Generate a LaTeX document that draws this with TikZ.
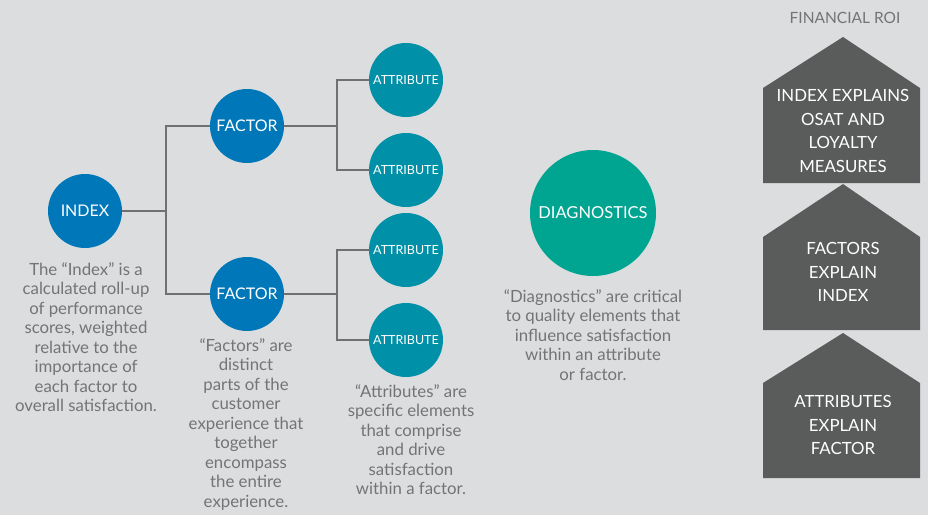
\documentclass[tikz,border=0pt]{standalone}
\usepackage{fontspec}
\setmainfont{Lato}
\usepackage{xcolor}
\usetikzlibrary{positioning}
\definecolor{bgcol}{HTML}{DCDDDF}
\definecolor{idxblue}{HTML}{0077B8}
\definecolor{attteal}{HTML}{0090A8}
\definecolor{diagcol}{HTML}{00A591}
\definecolor{hscol}{HTML}{5A5B5B}
\definecolor{txtgray}{HTML}{737476}
\definecolor{lngray}{HTML}{6F7072}
\tikzset{
  bubble/.style={circle,fill=idxblue,minimum size=74pt,inner sep=0pt,text=white,font=\fontsize{16}{19}\selectfont},
  attbub/.style={bubble,fill=attteal,font=\fontsize{12.5}{14}\selectfont},
  diagbub/.style={bubble,fill=diagcol,minimum size=126pt,font=\fontsize{16.5}{19}\selectfont},
  note/.style={align=center,text=txtgray,inner sep=0pt,anchor=north,font=\fontsize{16.8}{19.5}\selectfont},
  lnk/.style={draw=lngray,line width=1.2pt},
  house/.style={fill=hscol},
  hstxt/.style={align=center,text=white,inner sep=0pt,font=\fontsize{16.8}{23.5}\selectfont}
}

\begin{document}
\begin{tikzpicture}[x=1pt,y=-1pt]
\fill[bgcol] (0,0) rectangle (928,515);
\useasboundingbox (0,0) rectangle (928,515);
% tree
\node[bubble] (index) at (85,211) {INDEX};
\node[bubble] (fac1) at (247,126) {FACTOR};
\node[bubble] (fac2) at (247,294) {FACTOR};
\node[attbub] (att1) at (406,80) {ATTRIBUTE};
\node[attbub] (att2) at (406,170) {ATTRIBUTE};
\node[attbub] (att3) at (406,250) {ATTRIBUTE};
\node[attbub] (att4) at (406,340) {ATTRIBUTE};
\node[diagbub] (diag) at (593,213) {DIAGNOSTICS};
\coordinate (jA) at (166,211); \coordinate (jB) at (337,126); \coordinate (jC) at (337,294);
\draw[lnk] (index) -- (jA); \draw[lnk] (jA) |- (fac1); \draw[lnk] (jA) |- (fac2);
\draw[lnk] (fac1) -- (jB); \draw[lnk] (jB) |- (att1); \draw[lnk] (jB) |- (att2);
\draw[lnk] (fac2) -- (jC); \draw[lnk] (jC) |- (att3); \draw[lnk] (jC) |- (att4);
% notes
\node[note] (idxnote) at (86,262) {The “Index” is a\\calculated roll-up\\of performance\\scores, weighted\\relative to the\\importance of\\each factor to\\overall satisfaction.};
\node[note] (facnote) at (246,338) {“Factors” are\\distinct\\parts of the\\customer\\experience that\\together\\encompass\\the entire\\experience.};
\node[note] (attnote) at (411,384) {“Attributes” are\\specific elements\\that comprise\\and drive\\satisfaction\\within a factor.};
\node[note] (diagnote) at (593,289) {“Diagnostics” are critical\\to quality elements that\\influence satisfaction\\within an attribute\\or factor.};
% houses
\node[text=txtgray,font=\fontsize{15.5}{17}\selectfont] (roi) at (845,18) {FINANCIAL ROI};
\fill[house] (763,183) -- (763,88) -- (843,37) -- (920,88) -- (920,183) -- cycle;
\fill[house] (763,330) -- (763,237) -- (843,184) -- (920,237) -- (920,330) -- cycle;
\fill[house] (763,478) -- (763,383) -- (843,333) -- (920,383) -- (920,478) -- cycle;
\node[hstxt] (hs1) at (843,131) {INDEX EXPLAINS\\OSAT AND\\LOYALTY\\MEASURES};
\node[hstxt] (hs2) at (843,272) {FACTORS\\EXPLAIN\\INDEX};
\node[hstxt] (hs3) at (843,425) {ATTRIBUTES\\EXPLAIN\\FACTOR};
\end{tikzpicture}
\end{document}
